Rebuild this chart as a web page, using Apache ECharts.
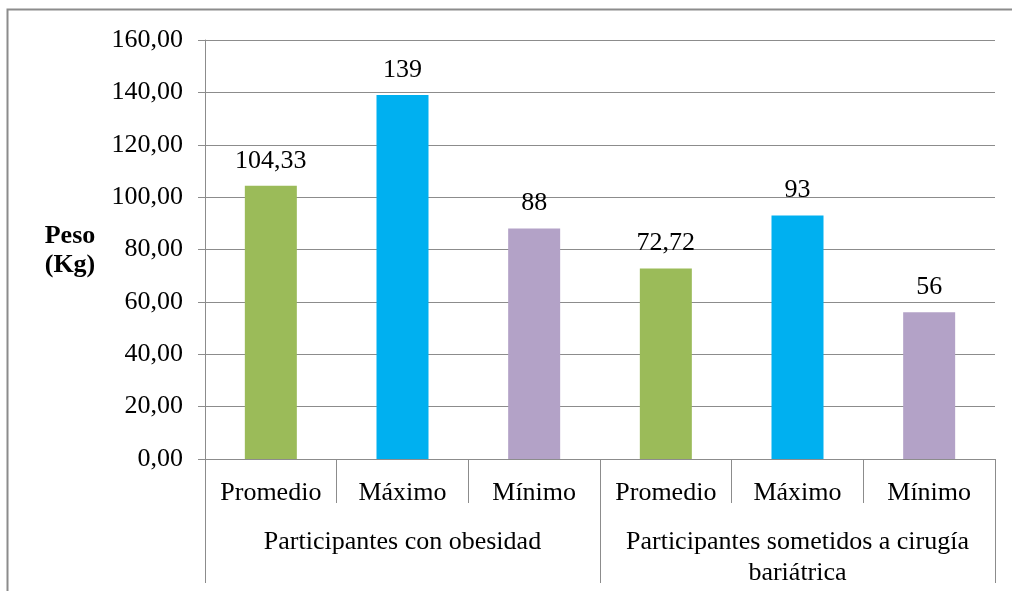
<!DOCTYPE html>
<html>
<head>
<meta charset="utf-8">
<script src="https://cdn.jsdelivr.net/npm/echarts@6/dist/echarts.min.js"></script>
<style>html,body{margin:0;padding:0;background:#fff;}#c{width:1012px;height:591px;}</style>
</head>
<body>
<div id="c"></div>
<script>
var categories = ['Promedio', 'Máximo', 'Mínimo', 'Promedio', 'Máximo', 'Mínimo'];
var groups = ['Participantes con obesidad', 'Participantes sometidos a cirugía\nbariátrica'];
var values = [104.33, 139, 88, 72.72, 93, 56];
var barColors = ['#9BBB59', '#00B0F0', '#B3A2C7', '#9BBB59', '#00B0F0', '#B3A2C7'];
var yTicks = { min: 0, max: 160, interval: 20 };
var yTitle = 'Peso\n(Kg)';

var FONT = '"Liberation Serif", "Times New Roman", serif';
var FS = 26;
var GREY = '#8c8c8c';
var chart = echarts.init(document.getElementById('c'), null, { renderer: 'canvas' });
chart.setOption({
  animation: false,
  backgroundColor: '#fff',
  textStyle: { fontFamily: FONT },
  grid: { left: 205, right: 17, top: 40, bottom: 132, containLabel: false },
  graphic: [
    { type: 'rect', shape: { x: 7.5, y: 9.5, width: 1100, height: 700 }, style: { fill: 'none', stroke: GREY, lineWidth: 2 }, silent: true, z: -10 },
    { type: 'text', x: 70, y: 251, style: { text: yTitle, fontFamily: FONT, fontSize: FS, fontWeight: 'bold', fill: '#000', align: 'center', verticalAlign: 'middle', lineHeight: 29 } }
  ],
  xAxis: [
    {
      type: 'category', data: categories, position: 'bottom',
      axisLine: { show: true, lineStyle: { color: GREY, width: 1 } },
      axisTick: { show: true, length: 44, interval: 0, lineStyle: { color: GREY } },
      axisLabel: { interval: 0, margin: 21, fontSize: FS, color: '#000', fontFamily: FONT },
      splitLine: { show: false }
    },
    {
      type: 'category', data: groups, position: 'bottom',
      axisLine: { show: false },
      axisTick: { show: true, length: 124, interval: 0, lineStyle: { color: GREY } },
      axisLabel: { interval: 0, margin: 68, fontSize: FS, lineHeight: 31, color: '#000', fontFamily: FONT, align: 'center' },
      splitLine: { show: false }
    }
  ],
  yAxis: {
    type: 'value', min: yTicks.min, max: yTicks.max, interval: yTicks.interval,
    axisLine: { show: true, lineStyle: { color: GREY } },
    axisTick: { show: true, length: 7, lineStyle: { color: GREY } },
    splitLine: { show: true, lineStyle: { color: GREY, width: 1 } },
    axisLabel: { margin: 22, fontSize: FS, color: '#000', fontFamily: FONT,
      formatter: function (v) { return v.toFixed(2).replace('.', ','); } }
  },
  series: [{
    type: 'bar', xAxisIndex: 0, barWidth: 52,
    data: values.map(function (v, i) { return { value: v, itemStyle: { color: barColors[i] } }; }),
    label: { show: true, position: 'top', distance: 12, fontSize: FS, color: '#000', fontFamily: FONT,
      formatter: function (p) { return String(p.value).replace('.', ','); } }
  }]
});
</script>
</body>
</html>
